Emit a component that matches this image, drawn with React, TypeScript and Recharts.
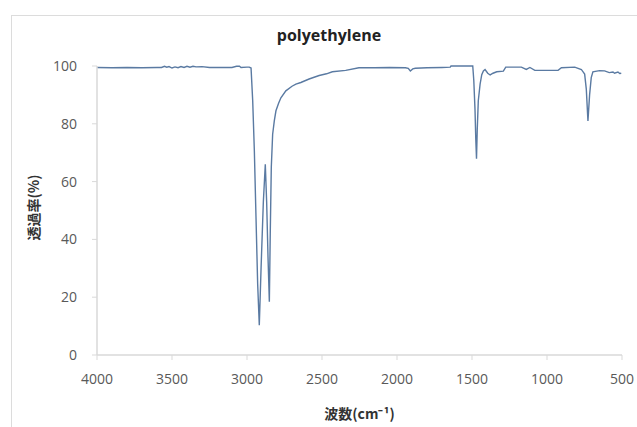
import React from 'react';
import { LineChart, Line, XAxis, YAxis, Label } from 'recharts';

// wavenumber (cm-1) and transmittance (%)
const wavenumbers = [
  4000, 3900, 3800, 3700, 3600, 3570, 3550, 3535, 3520, 3500, 3480, 3460, 3440, 3420, 3400,
  3380, 3360, 3340, 3300, 3250, 3200, 3150, 3100, 3070, 3050, 3040, 3000, 2985, 2973, 2962,
  2951, 2940, 2929, 2918, 2906, 2891, 2878, 2869, 2860, 2851, 2845, 2838, 2829, 2818, 2807,
  2790, 2774, 2741, 2700, 2674, 2641, 2586, 2519, 2470, 2431, 2342, 2254, 2150, 2050, 1944,
  1925, 1911, 1895, 1878, 1800, 1700, 1645, 1640, 1560, 1495, 1488, 1480, 1475, 1470, 1465,
  1458, 1446, 1435, 1424, 1413, 1395, 1379, 1360, 1335, 1291, 1275, 1171, 1138, 1114, 1081,
  1000, 926, 904, 815, 771, 749, 738, 727, 716, 705, 694, 650, 616, 585, 560,
  550, 527, 515, 505,
];
const transmittance = [
  99.5, 99.4, 99.5, 99.4, 99.5, 99.5, 99.9, 99.6, 99.8, 99.3, 99.7, 99.4, 99.8, 99.5, 99.9,
  99.6, 99.9, 99.7, 99.8, 99.5, 99.5, 99.5, 99.5, 99.9, 99.9, 99.5, 99.6, 99.6, 99.3, 88,
  70.7, 47.7, 24.7, 10.3, 30.4, 53, 66, 53, 34, 18.4, 42, 65, 76.4, 81, 84.5,
  87, 89, 91.4, 93, 93.7, 94.3, 95.5, 96.7, 97.3, 98, 98.5, 99.4, 99.4, 99.5, 99.4,
  99.2, 98.3, 99, 99.2, 99.4, 99.5, 99.6, 100, 100, 100, 95, 85, 75, 67.9, 78,
  88, 93.7, 97, 98.3, 98.8, 97.5, 96.9, 97.5, 98, 98.2, 99.6, 99.6, 98.8, 99.5, 98.5,
  98.5, 98.5, 99.4, 99.6, 98.8, 97.2, 92, 81, 90, 96, 98, 98.4, 98.3, 97.7, 97.9,
  97.5, 97.9, 97.4, 97.5,
];

const xTicks = [4000, 3500, 3000, 2500, 2000, 1500, 1000, 500];
const yTicks = [0, 20, 40, 60, 80, 100];

const data = wavenumbers.map((wn, i) => ({ wn, t: transmittance[i] }));

const tickStyle = { fill: '#595959', fontSize: 14, fontFamily: 'Open Sans' };
const axisColor = '#d9d9d9';

export default function App() {
  return (
    <div style={{ position: 'absolute', left: 0, top: 0, width: 637, height: 427, background: '#fff', overflow: 'hidden' }}>
      {/* outer chart frame */}
      <div
        style={{
          position: 'absolute',
          left: 11,
          top: 15,
          width: 640,
          height: 420,
          borderLeft: '1.5px solid #dcdcdc',
          borderTop: '1.5px solid #dcdcdc',
        }}
      />
      <div
        style={{
          position: 'absolute',
          left: 0,
          width: 658,
          top: 24,
          textAlign: 'center',
          fontFamily: 'Open Sans',
          fontWeight: 700,
          fontSize: 16,
          color: '#222',
        }}
      >
        polyethylene
      </div>
      <LineChart
        width={637}
        height={427}
        data={data}
        margin={{ top: 66, right: 15, left: 0, bottom: 42 }}
        style={{ position: 'absolute', left: 0, top: 0 }}
      >
        <XAxis
          type="number"
          dataKey="wn"
          domain={[500, 4000]}
          reversed
          ticks={xTicks}
          interval={0}
          height={30}
          axisLine={{ stroke: axisColor, strokeWidth: 1.5 }}
          tickLine={{ stroke: axisColor }}
          tickSize={5}
          tickMargin={14}
          tick={tickStyle}
          allowDataOverflow
        >
          <Label
            content={({ viewBox }: any) => (
              <text
                x={viewBox.x + viewBox.width / 2}
                y={419}
                textAnchor="middle"
                fontSize={14}
                fontWeight={700}
                fontFamily="Noto Sans CJK JP"
                fill="#333"
              >
                波数(cm⁻¹)
              </text>
            )}
          />
        </XAxis>
        <YAxis
          type="number"
          domain={[0, 100]}
          ticks={yTicks}
          interval={0}
          width={97}
          axisLine={{ stroke: axisColor, strokeWidth: 1.5 }}
          tickLine={{ stroke: axisColor }}
          tickSize={5}
          tickMargin={15}
          tick={tickStyle}
        >
          <Label
            content={({ viewBox }: any) => {
              const cy = viewBox.y + viewBox.height / 2 - 3;
              return (
                <text
                  x={33}
                  y={cy}
                  transform={`rotate(-90, 33, ${cy})`}
                  textAnchor="middle"
                  dominantBaseline="central"
                  fontSize={14}
                  fontWeight={700}
                  fontFamily="Noto Sans CJK JP"
                  fill="#333"
                >
                  透過率(%)
                </text>
              );
            }}
          />
        </YAxis>
        <Line
          type="linear"
          dataKey="t"
          stroke="#5a7aa2"
          strokeWidth={1.4}
          dot={false}
          isAnimationActive={false}
        />
      </LineChart>
    </div>
  );
}
